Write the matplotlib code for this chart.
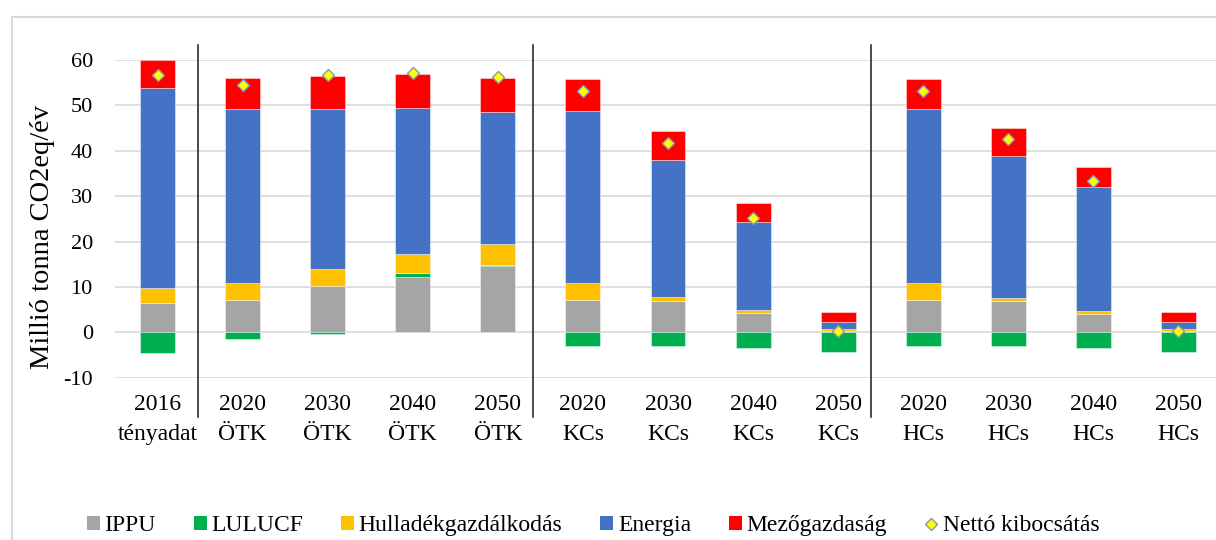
import numpy as np
import matplotlib
matplotlib.use("Agg")
import matplotlib.pyplot as plt
from matplotlib.patches import Patch, Rectangle
from matplotlib.lines import Line2D

plt.rcParams['font.family'] = ['Liberation Serif', 'DejaVu Serif']
plt.rcParams['axes.unicode_minus'] = False

# kategoriak
evek = ["2016", "2020", "2030", "2040", "2050", "2020", "2030", "2040", "2050",
        "2020", "2030", "2040", "2050"]
forgatokonyv = ["tényadat", "ÖTK", "ÖTK", "ÖTK", "ÖTK", "KCs", "KCs", "KCs", "KCs",
                "HCs", "HCs", "HCs", "HCs"]

# Millió tonna CO2eq/év
ippu = [6.4, 7.2, 10.3, 12.25, 14.5, 7.2, 6.9, 4.3, 0.2, 7.2, 7.0, 4.1, 0.2]
lulucf = [-4.6, -1.5, -0.45, 0.9, 0.3, -2.95, -2.95, -3.5, -4.4, -2.95, -2.95, -3.5, -4.4]
hulladek = [3.36, 3.7, 3.6, 4.0, 4.6, 3.7, 0.9, 0.6, 0.45, 3.7, 0.5, 0.5, 0.45]
energia = [44.1, 38.2, 35.2, 32.3, 29.1, 37.9, 30.2, 19.3, 1.7, 38.2, 31.4, 27.5, 1.7]
mezogazdasag = [6.1, 7.0, 7.4, 7.4, 7.6, 7.0, 6.4, 4.2, 2.05, 6.7, 6.2, 4.3, 2.05]
netto = [56.8, 54.6, 56.6, 57.1, 56.3, 53.1, 41.8, 25.1, 0.3, 53.1, 42.7, 33.3, 0.3]

sorozatok = [("IPPU", ippu, "#A5A5A5"),
             ("LULUCF", lulucf, "#00B050"),
             ("Hulladékgazdálkodás", hulladek, "#FFC000"),
             ("Energia", energia, "#4472C4"),
             ("Mezőgazdaság", mezogazdasag, "#FF0000")]

fig = plt.figure(figsize=(12.16, 5.4), dpi=100)
ax = fig.add_axes([115 / 1216, 0.3006, 1106 / 1216, 0.5883])

x = np.arange(len(evek))
pos = np.zeros(len(x))
neg = np.zeros(len(x))
for nev, ertek, szin in sorozatok:
    v = np.array(ertek)
    alap = np.where(v >= 0, pos, neg)
    ax.bar(x, v, 0.41, bottom=alap, color=szin, edgecolor=(1, 1, 1, 0.5),
           linewidth=0.6, zorder=3)
    pos = pos + np.where(v >= 0, v, 0)
    neg = neg + np.where(v < 0, v, 0)

ax.plot(x, netto, linestyle="none", marker="D", markersize=6.5,
        markerfacecolor="#FFFF00", markeredgecolor="#8497B0", markeredgewidth=1,
        zorder=4)

ax.set_xlim(-0.5, 12.5)
ax.set_ylim(-10, 60)
ax.set_yticks(range(-10, 61, 10))
ax.yaxis.grid(True, color="#D9D9D9", linewidth=1.2, zorder=0)
ax.set_axisbelow(True)
for s in ax.spines.values():
    s.set_visible(False)
ax.tick_params(axis="y", length=0, pad=16, labelsize=16)
ax.tick_params(axis="x", length=0, pad=12, labelsize=17)
ax.set_xticks(x)
ax.set_xticklabels([e + "\n" + f for e, f in zip(evek, forgatokonyv)],
                   linespacing=1.55)
ax.set_ylabel("Millió tonna CO2eq/év", fontsize=20.5)
ax.yaxis.set_label_coords(-60 / 1106, 0.443)

# elvalaszto vonalak
for xv in [0.475, 4.414, 8.386]:
    ax.plot([xv, xv], [63.3, -18.7], color="#1A1A1A", linewidth=1.1,
            clip_on=False, zorder=5)

# keret
fig.patches.append(Rectangle((12 / 1216, -0.2), 1.2, 0.2 + (1 - 17 / 540),
                             transform=fig.transFigure, fill=False,
                             edgecolor="#D9D9D9", linewidth=1.5))

kezelok = [Patch(facecolor=c, edgecolor="none") for _, _, c in sorozatok]
kezelok.append(Line2D([], [], linestyle="none", marker="D", markersize=6.5,
                      markerfacecolor="#FFFF00", markeredgecolor="#8497B0"))
nevek = [n for n, _, _ in sorozatok] + ["Nettó kibocsátás"]
fig.legend(kezelok, nevek, loc="center", bbox_to_anchor=(593 / 1216, 0.026),
           ncol=6, frameon=False, fontsize=17, handlelength=0.55,
           handleheight=0.55, handletextpad=0.2, columnspacing=1.6)

fig.savefig("out.png", dpi=100)
